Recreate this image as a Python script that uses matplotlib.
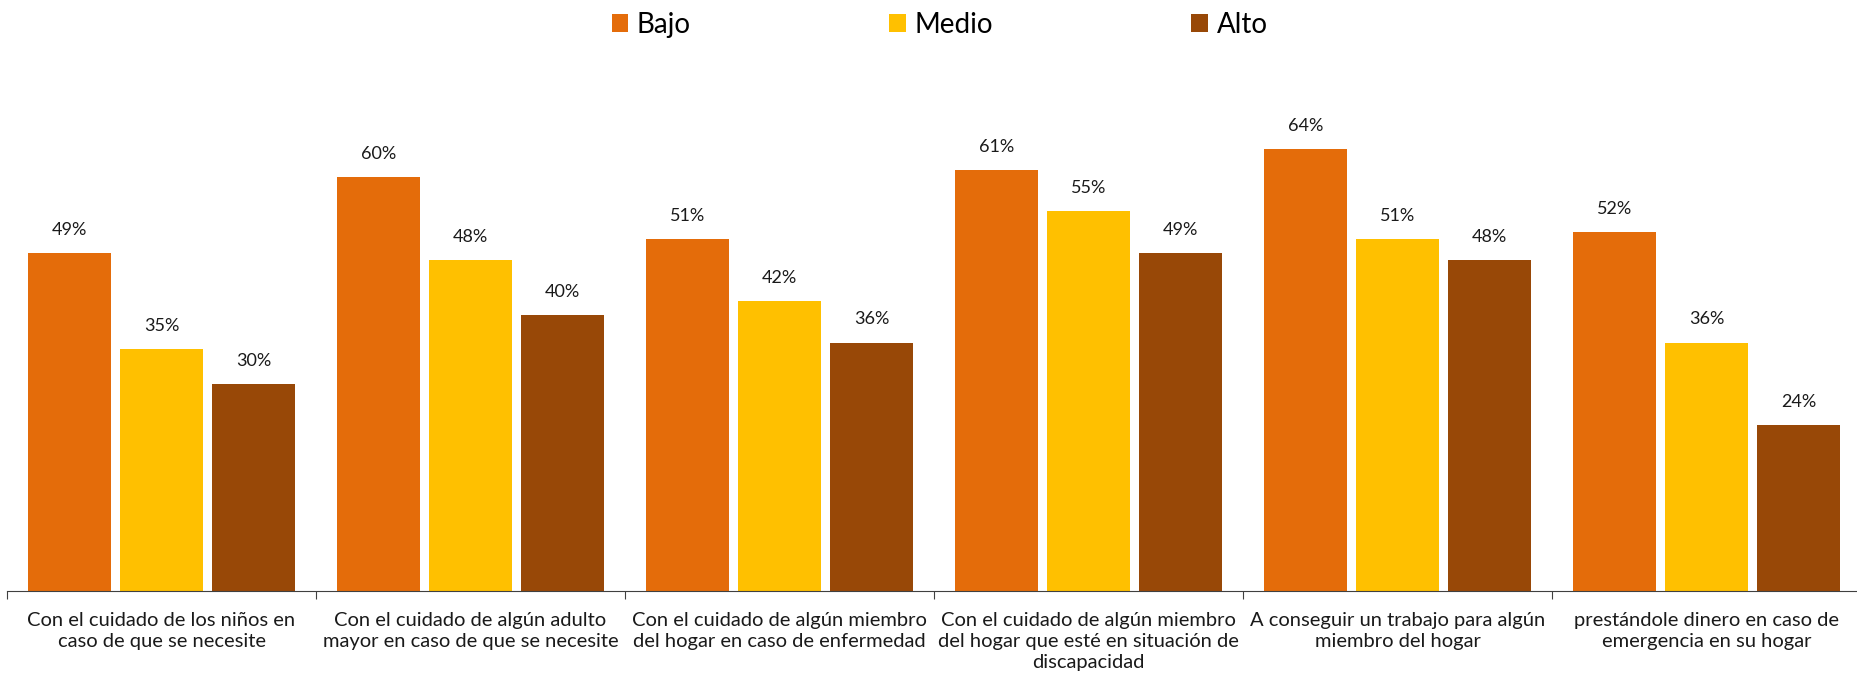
import matplotlib
matplotlib.use('Agg')
import matplotlib.pyplot as plt
import numpy as np

plt.rcParams['font.family'] = ['Lato', 'DejaVu Sans']

# data
categories = [
    'Con el cuidado de los niños en\ncaso de que se necesite',
    'Con el cuidado de algún adulto\nmayor en caso de que se necesite',
    'Con el cuidado de algún miembro\ndel hogar en caso de enfermedad',
    'Con el cuidado de algún miembro\ndel hogar que esté en situación de\ndiscapacidad',
    'A conseguir un trabajo para algún\nmiembro del hogar',
    'prestándole dinero en caso de\nemergencia en su hogar',
]
series_names = ['Bajo', 'Medio', 'Alto']
bajo = [49, 60, 51, 61, 64, 52]
medio = [35, 48, 42, 55, 51, 36]
alto = [30, 40, 36, 49, 48, 24]
colors = ['#E46C0A', '#FFC000', '#984807']

fig = plt.figure(figsize=(18.58, 6.81), dpi=100)
ax = fig.add_axes([0.0038, 0.1322, 0.9978, 0.7093])

x = np.arange(len(categories))
width = 0.269
step = 0.298

for i, (name, vals, col) in enumerate(zip(series_names, [bajo, medio, alto], colors)):
    pos = x + (i - 1) * step
    bars = ax.bar(pos, vals, width, color=col, label=name)
    for b, v in zip(bars, vals):
        ax.text(b.get_x() + b.get_width() / 2, v + 2.2, f'{v}%',
                ha='center', va='bottom', fontsize=13, color='#1a1a1a')

ax.set_xlim(-0.5, len(categories) - 0.5)
ax.set_ylim(0, 70)

# bottom axis only, ticks at group boundaries
for s in ['top', 'right', 'left']:
    ax.spines[s].set_visible(False)
ax.spines['bottom'].set_color('#404040')
ax.set_yticks([])
ax.set_xticks(np.arange(len(categories) + 1) - 0.5)
ax.set_xticklabels([])
ax.tick_params(axis='x', direction='out', length=6, color='#404040')

for xi, lab in zip(x, categories):
    ax.text(xi, -3.0, lab, ha='center', va='top', fontsize=14.5,
            color='#1a1a1a', linespacing=1.3)

ax.legend(loc='center', bbox_to_anchor=(0.503, 1.172), ncol=3,
          frameon=False, fontsize=20, handlelength=0.6, handleheight=0.6,
          handletextpad=0.3, columnspacing=7.15)

fig.savefig('out.png', dpi=100)
